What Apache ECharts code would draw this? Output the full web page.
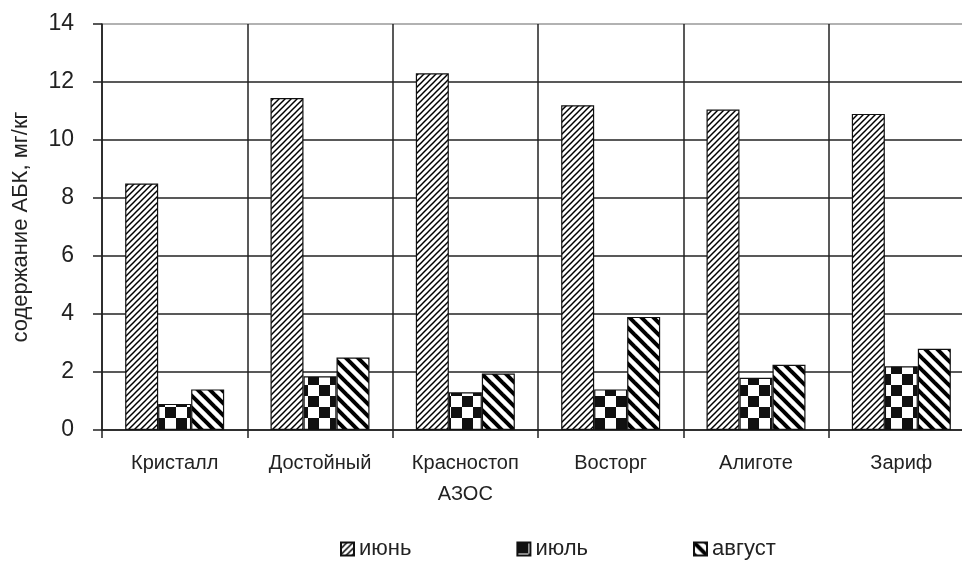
<!DOCTYPE html>
<html><head><meta charset="utf-8">
<script src="https://cdn.jsdelivr.net/npm/echarts@6/dist/echarts.min.js"></script>
<style>html,body{margin:0;padding:0;background:#fff}#c{width:962px;height:564px}</style>
</head><body><div id="c"></div>
<script>
const categories = ['Кристалл', 'Достойный', 'Красностоп\nАЗОС', 'Восторг', 'Алиготе', 'Зариф'];
const seriesNames = ['июнь', 'июль', 'август'];
const june = [8.5, 11.45, 12.3, 11.2, 11.05, 10.9];
const july = [0.9, 1.85, 1.3, 1.4, 1.8, 2.2];
const august = [1.4, 2.5, 1.95, 3.9, 2.25, 2.8];
const yTicks = [0, 2, 4, 6, 8, 10, 12, 14];

function makeCanvas(w, h) { const c = document.createElement('canvas'); c.width = w; c.height = h; const g = c.getContext('2d'); g.fillStyle = '#fff'; g.fillRect(0, 0, w, h); return [c, g]; }
function patJune() {
  const [c, g] = makeCanvas(6, 6);
  g.strokeStyle = '#000'; g.lineWidth = 1.5;
  for (let k = -1; k <= 1; k++) { g.beginPath(); g.moveTo(k * 6 - 1, 7); g.lineTo(k * 6 + 7, -1); g.stroke(); }
  return c;
}
function patJuly() {
  const [c, g] = makeCanvas(22, 22);
  g.fillStyle = '#111'; g.fillRect(0, 0, 11, 11); g.fillRect(11, 11, 11, 11);
  return c;
}
function patAug() {
  const [c, g] = makeCanvas(12, 12);
  g.strokeStyle = '#000'; g.lineWidth = 4;
  for (let k = -1; k <= 1; k++) { g.beginPath(); g.moveTo(k * 12 - 2, -2); g.lineTo(k * 12 + 14, 14); g.stroke(); }
  return c;
}
const fills = [patJune(), patJuly(), patAug()];
const values = [june, july, august];

const chart = echarts.init(document.getElementById('c'));
chart.setOption({
  animation: false,
  textStyle: { fontFamily: 'Liberation Sans, Arial, sans-serif' },
  grid: { left: 102, top: 24, right: -12, bottom: 134, containLabel: false, outerBoundsMode: 'none' },
  legend: {
    top: 533, left: 335, icon: 'rect', itemWidth: 13, itemHeight: 13, itemGap: 105,
    textStyle: { fontSize: 22, color: '#222', fontFamily: 'Liberation Sans, Arial, sans-serif' },
    data: seriesNames
  },
  xAxis: {
    type: 'category', data: categories,
    axisLine: { lineStyle: { color: '#222', width: 1.5 } },
    axisTick: { show: true, length: 8, lineStyle: { color: '#222', width: 1.5 } },
    axisLabel: { fontSize: 20, color: '#222', margin: 18, lineHeight: 31, interval: 0 },
    splitLine: { show: true, lineStyle: { color: '#222', width: 1.5 } }
  },
  yAxis: {
    type: 'value', min: 0, max: 14, interval: 2,
    name: 'содержание АБК, мг/кг', nameLocation: 'middle', nameGap: 70,
    nameTextStyle: { fontSize: 22, color: '#222' },
    axisLine: { show: true, lineStyle: { color: '#222', width: 1.5 } },
    axisTick: { show: true, length: 9, lineStyle: { color: '#222', width: 1.5 } },
    axisLabel: { fontSize: 23, color: '#222', margin: 28 },
    splitLine: { show: true, lineStyle: { color: ['#222', '#222', '#222', '#222', '#222', '#222', '#222', '#999'], width: 1.5 } }
  },
  series: seriesNames.map((n, i) => ({
    name: n, type: 'bar', data: values[i], barWidth: 33, barGap: '0%',
    itemStyle: { color: { image: fills[i], repeat: 'repeat' }, borderColor: '#111', borderWidth: 1.2 }
  }))
});
</script></body></html>
